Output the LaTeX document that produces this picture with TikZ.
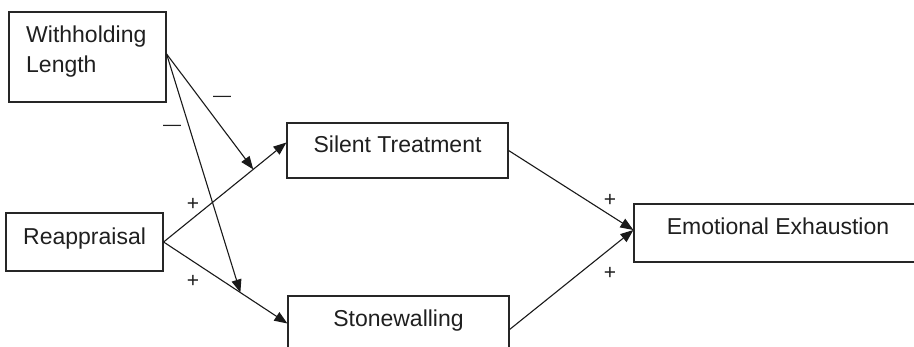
\documentclass[tikz,border=0pt]{standalone}
\usepackage{fontspec}
\setmainfont{Liberation Sans}
\usetikzlibrary{arrows.meta,calc}
\begin{document}
\begin{tikzpicture}[x=1pt,y=-1pt,
  box/.style={draw=black!85,line width=1.2pt,inner sep=0pt},
  txt/.style={inner sep=0pt,text=black!88,font=\fontsize{23}{30}\selectfont},
  sign/.style={inner sep=0pt,text=black!88,font=\fontsize{18}{20}\selectfont},
  plus/.style={inner sep=0pt,text=black!88,font=\fontsize{21}{22}\selectfont},
  arr/.style={draw=black!90,line width=1.1pt,-{Triangle[length=13pt,width=10pt]}}]
\useasboundingbox (0,0) rectangle (914,347);
\clip (0,0) rectangle (914,347);
% boxes
\node[box,minimum width=157pt,minimum height=90pt] (wl) at (87.5,57) {};
\node[box,minimum width=157pt,minimum height=58pt] (re) at (84.5,242) {};
\node[box,minimum width=221pt,minimum height=55pt] (st) at (397.5,150.5) {};
\node[box,minimum width=221pt,minimum height=55pt] (sw) at (398.5,323.5) {};
\node[box,minimum width=288pt,minimum height=58pt] (ee) at (778,233) {};
% texts
\node[txt,anchor=base west] (t1) at (26,43) {Withholding};
\node[txt,anchor=base west] (t2) at (26,73) {Length};
\node[txt,anchor=base west] (t3) at (23,245) {Reappraisal};
\node[txt,anchor=base] (t4) at (397.5,153) {Silent Treatment};
\node[txt,anchor=base] (t5) at (398.5,327) {Stonewalling};
\node[txt,anchor=base] (t6) at (778,235) {Emotional Exhaustion};
% connectors
\draw[arr] (re.east) -- coordinate[pos=0.73] (m1) ([yshift=8pt]st.west);
\draw[arr] (re.east) -- coordinate[pos=0.62] (m2) (sw.west);
\draw[arr] ([yshift=3pt]wl.east) -- (m1);
\draw[arr] ([yshift=3pt]wl.east) -- (m2);
\draw[arr] (st.east) -- ([yshift=3pt]ee.west);
\draw[arr] ([yshift=-6pt]sw.east) -- ([yshift=3pt]ee.west);
% signs
\node[sign] (s1) at (222,99) {—};
\node[sign] (s2) at (172,128) {—};
\node[plus] (s3) at (193,204) {+};
\node[plus] (s4) at (193,281) {+};
\node[plus] (s5) at (610,200) {+};
\node[plus] (s6) at (610,273) {+};
\end{tikzpicture}
\end{document}
